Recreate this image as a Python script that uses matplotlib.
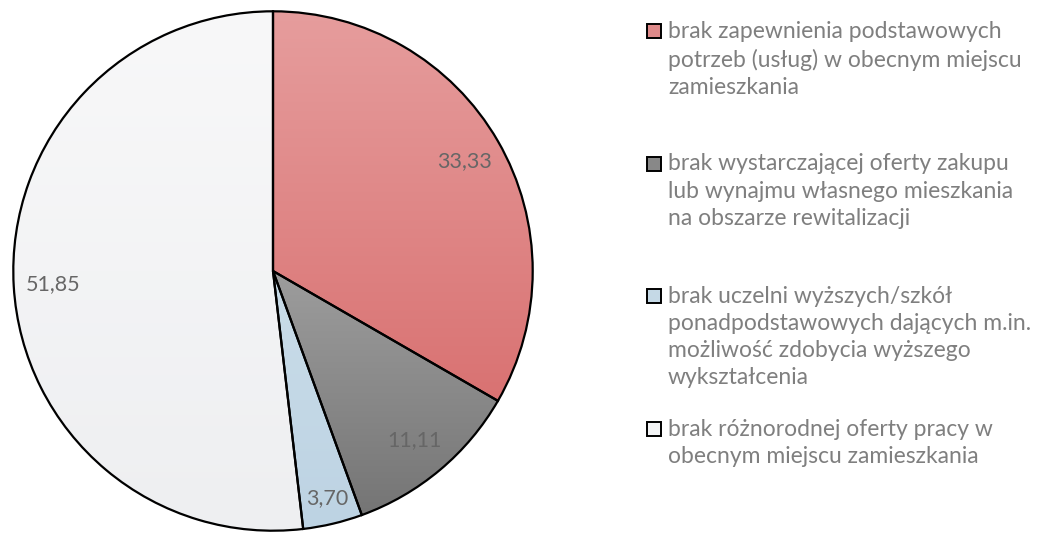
import numpy as np
import matplotlib.pyplot as plt
from matplotlib.colors import LinearSegmentedColormap
from matplotlib.patches import Rectangle

values = [33.33, 11.11, 3.70, 51.85]
value_labels = ["33,33", "11,11", "3,70", "51,85"]
categories = [
    "brak zapewnienia podstawowych\npotrzeb (usług) w obecnym miejscu\nzamieszkania",
    "brak wystarczającej oferty zakupu\nlub wynajmu własnego mieszkania\nna obszarze rewitalizacji",
    "brak uczelni wyższych/szkół\nponadpodstawowych dających m.in.\nmożliwość zdobycia wyższego\nwykształcenia",
    "brak różnorodnej oferty pracy w\nobecnym miejscu zamieszkania",
]
# gradient top -> bottom for each slice
grad = [("#E69D9D", "#D97272"), ("#9D9D9D", "#757575"),
        ("#CADDE9", "#BDD3E3"), ("#F8F8F9", "#EEEFF1")]
legend_colors = ["#DF8A8A", "#888888", "#C5D9E6", "#F3F4F5"]

plt.rcParams['font.family'] = ['Lato', 'DejaVu Sans']

W, H = 1041, 534
fig = plt.figure(figsize=(W / 100, H / 100), dpi=100)
ax = fig.add_axes([12 / W, 2 / H, 522 / W, 522 / H])

wedges, _ = ax.pie(values, startangle=90, counterclock=False, radius=1,
                   wedgeprops=dict(edgecolor="black", linewidth=1.6))

label_r = [0.85, 0.85, 0.9, 0.85]
for w, (c1, c2), lab, r in zip(wedges, grad, value_labels, label_r):
    ext = w.get_path().get_extents()
    cmap = LinearSegmentedColormap.from_list("g", [c2, c1])
    img = np.linspace(0, 1, 256).reshape(-1, 1)
    im = ax.imshow(img, cmap=cmap, origin="lower", aspect="auto",
                   extent=[ext.x0, ext.x1, ext.y0, ext.y1], zorder=0.5)
    im.set_clip_path(w)
    w.set_facecolor("none")
    ang = np.deg2rad((w.theta1 + w.theta2) / 2)
    ax.text(r * np.cos(ang), r * np.sin(ang), lab, ha="center", va="center",
            fontsize=15.5, color="#666666", zorder=3)

ax.set_xlim(-1.005, 1.005)
ax.set_ylim(-1.005, 1.005)
ax.set_aspect("equal")
ax.axis("off")

# legend, drawn by hand so the box sits at the first line
top = 31
step = 132.5
tx = 668
for i, (txt, col) in enumerate(zip(categories, legend_colors)):
    yc = top + step * i
    fig.patches.append(Rectangle(((tx - 21) / W, 1 - (yc + 7) / H), 14 / W, 14 / H,
                                 transform=fig.transFigure, facecolor=col,
                                 edgecolor="black", linewidth=1.4))
    fig.text(tx / W, 1 - (yc - 10) / H, txt, ha="left", va="top",
             fontsize=16.5, color="#7F7F7F", linespacing=1.36)

fig.savefig("out.png", dpi=100)
